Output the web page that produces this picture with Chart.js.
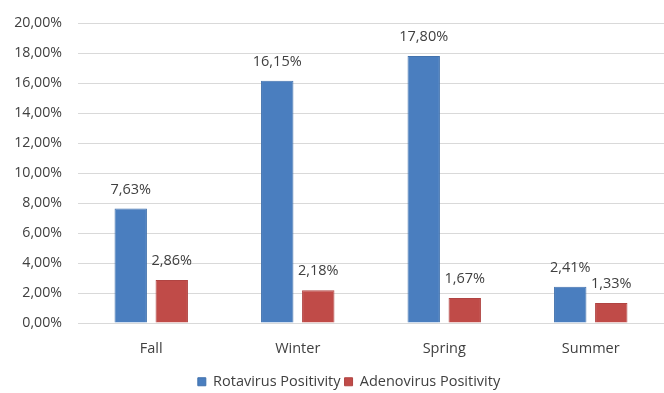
<!DOCTYPE html>
<html>
<head>
<meta charset="utf-8">
<script src="https://cdn.jsdelivr.net/npm/chart.js@4/dist/chart.umd.min.js"></script>
<style>
html,body{margin:0;padding:0;background:#fff;overflow:hidden}
#wrap{width:664px;height:393px;position:relative}
</style>
</head>
<body>
<div id="wrap"><canvas id="c" width="664" height="393"></canvas></div>
<script>
const categories = ["Fall", "Winter", "Spring", "Summer"];
const rotavirus = [7.63, 16.15, 17.80, 2.41];
const adenovirus = [2.86, 2.18, 1.67, 1.33];
const seriesNames = ["Rotavirus Positivity", "Adenovirus Positivity"];
const yTicks = [0, 2, 4, 6, 8, 10, 12, 14, 16, 18, 20];

const FONT = "'Open Sans', sans-serif";
const fmt = v => v.toFixed(2).replace('.', ',') + '%';

const labelPlugin = {
  id: 'barLabels',
  afterDatasetsDraw(chart) {
    const ctx = chart.ctx;
    ctx.save();
    ctx.font = "14.5px " + FONT;
    ctx.fillStyle = '#404040';
    ctx.textAlign = 'center';
    ctx.textBaseline = 'middle';
    chart.data.datasets.forEach((ds, i) => {
      const meta = chart.getDatasetMeta(i);
      meta.data.forEach((el, j) => {
        ctx.fillText(fmt(ds.data[j]), el.x, el.y - 19);
      });
    });
    ctx.restore();
  }
};

const legendShift = {
  id: 'legendShift',
  afterLayout(chart) {
    const lg = chart.legend;
    if (lg) { lg.left += 17; lg.right += 17; lg.top += 6; lg.bottom += 6; }
  }
};

new Chart(document.getElementById('c'), {
  type: 'bar',
  data: {
    labels: categories,
    datasets: [
      { label: seriesNames[0], data: rotavirus, backgroundColor: '#4A7EBF', borderColor: '#4272AD', borderWidth: 1,
        barPercentage: 0.79, categoryPercentage: 0.56 },
      { label: seriesNames[1], data: adenovirus, backgroundColor: '#C04B48', borderColor: '#B04442', borderWidth: 1,
        barPercentage: 0.79, categoryPercentage: 0.56 }
    ]
  },
  options: {
    responsive: false,
    animation: false,
    layout: { padding: { top: 0, right: 0, left: 0, bottom: 0 } },
    plugins: {
      legend: {
        position: 'bottom',
        labels: { boxWidth: 8, boxHeight: 8, color: '#404040', font: { family: FONT, size: 14.5 }, padding: 4 }
      },
      tooltip: { enabled: false }
    },
    scales: {
      x: {
        grid: { display: false },
        border: { display: true, color: '#d9d9d9', width: 1 },
        ticks: { color: '#404040', font: { family: FONT, size: 14.5 }, padding: 9 },
        afterFit(axis) { axis.height = 41.5; }
      },
      y: {
        min: 0, max: 20,
        afterBuildTicks(axis) { axis.ticks = yTicks.map(v => ({ value: v })); },
        grid: { color: '#d9d9d9', lineWidth: 1, tickLength: 0 },
        border: { display: false },
        ticks: { color: '#404040', font: { family: FONT, size: 14.2, lineHeight: 1 }, padding: 16, callback: v => fmt(v) },
        afterFit(axis) { axis.width = 78; }
      }
    }
  },
  plugins: [labelPlugin, legendShift]
});
</script>
</body>
</html>
